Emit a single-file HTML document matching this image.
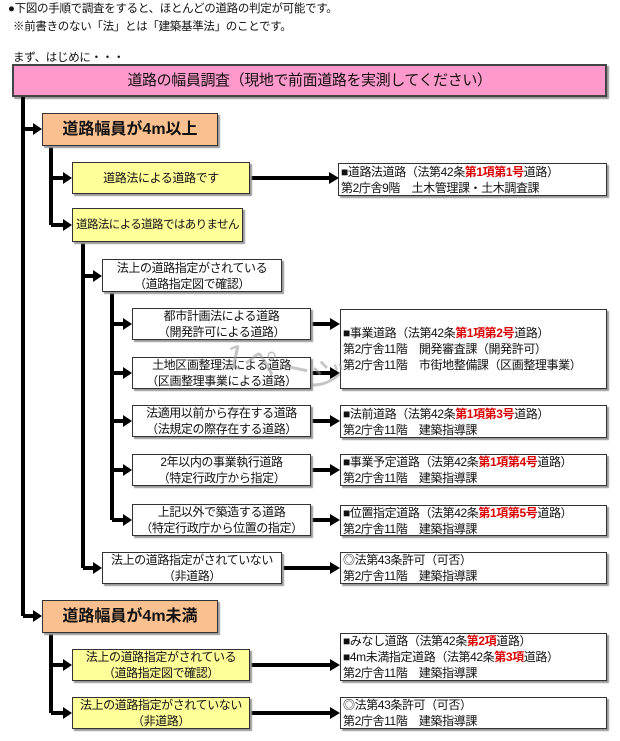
<!DOCTYPE html>
<html><head><meta charset="utf-8"><style>
body{margin:0;background:#fff;width:620px;height:741px;position:relative;overflow:hidden;font-family:"Liberation Sans","Noto Sans CJK JP",sans-serif;color:#111}
.t{position:absolute;font-size:11.5px;white-space:nowrap;letter-spacing:-0.3px}
.b{position:absolute;box-sizing:border-box;border:1px solid #333;display:flex;flex-direction:column;justify-content:center;align-items:center;font-size:12px;line-height:16px;text-align:center;box-shadow:2px 2px 1px #999;white-space:nowrap;letter-spacing:-0.4px}
.y{background:#ffff99}.o{background:#fac090;font-weight:bold;font-size:16px;letter-spacing:0}.w{background:#fff}
.r{position:absolute;box-sizing:border-box;border:1px solid #333;background:#fff;font-size:12px;line-height:16px;padding:1px 2px;box-shadow:2px 2px 1px #999;white-space:nowrap;display:flex;flex-direction:column;justify-content:center;letter-spacing:-0.4px}
.red{color:#d00;font-weight:bold}
</style></head><body>
<div class="t" style="left:8px;top:0px">●下図の手順で調査をすると、ほとんどの道路の判定が可能です。</div>
<div class="t" style="left:13px;top:18px">※前書きのない「法」とは「建築基準法」のことです。</div>
<div class="t" style="left:13px;top:49px">まず、はじめに・・・</div>
<div class="b" style="left:12px;top:64px;width:595px;height:33px;background:#ff99cc;font-size:15px;border:2px solid #444">道路の幅員調査（現地で前面道路を実測してください）</div>

<svg style="position:absolute;left:0;top:0" width="620" height="741">
<g stroke="#000" stroke-width="4" fill="none">
<line x1="23" y1="97" x2="23" y2="616"/>
<line x1="51" y1="146" x2="51" y2="225"/>
<line x1="51" y1="633" x2="51" y2="713"/>
<line x1="83" y1="242" x2="83" y2="568"/>
<line x1="112" y1="292" x2="112" y2="520"/>
<line x1="23" y1="129" x2="34" y2="129"/>
<line x1="23" y1="616" x2="34" y2="616"/>
<line x1="51" y1="178" x2="64" y2="178"/>
<line x1="51" y1="225" x2="64" y2="225"/>
<line x1="51" y1="665" x2="64" y2="665"/>
<line x1="51" y1="713" x2="64" y2="713"/>
<line x1="83" y1="276" x2="94" y2="276"/>
<line x1="83" y1="568" x2="94" y2="568"/>
<line x1="112" y1="324" x2="124" y2="324"/>
<line x1="112" y1="373" x2="124" y2="373"/>
<line x1="112" y1="421" x2="124" y2="421"/>
<line x1="112" y1="470" x2="124" y2="470"/>
<line x1="112" y1="520" x2="124" y2="520"/>
<line x1="250" y1="178" x2="330" y2="178"/>
<line x1="305" y1="324" x2="331" y2="324"/>
<line x1="305" y1="373" x2="331" y2="373"/>
<line x1="305" y1="421" x2="331" y2="421"/>
<line x1="305" y1="470" x2="331" y2="470"/>
<line x1="305" y1="520" x2="331" y2="520"/>
<line x1="281" y1="568" x2="331" y2="568"/>
<line x1="250" y1="665" x2="331" y2="665"/>
<line x1="250" y1="713" x2="331" y2="713"/>
</g>
<g fill="#000">
<path d="M33 123L42 129L33 135Z"/><path d="M33 610L42 616L33 622Z"/>
<path d="M63 172L72 178L63 184Z"/><path d="M63 219L72 225L63 231Z"/>
<path d="M63 659L72 665L63 671Z"/><path d="M63 707L72 713L63 719Z"/>
<path d="M93 270L102 276L93 282Z"/><path d="M93 562L102 568L93 574Z"/>
<path d="M123 318L132 324L123 330Z"/><path d="M123 367L132 373L123 379Z"/>
<path d="M123 415L132 421L123 427Z"/><path d="M123 464L132 470L123 476Z"/>
<path d="M123 514L132 520L123 526Z"/>
<path d="M329 172L339 178L329 184Z"/>
<path d="M330 318L340 324L330 330Z"/><path d="M330 367L340 373L330 379Z"/>
<path d="M330 415L340 421L330 427Z"/><path d="M330 464L340 470L330 476Z"/>
<path d="M330 514L340 520L330 526Z"/><path d="M330 562L340 568L330 574Z"/>
<path d="M330 659L340 665L330 671Z"/><path d="M330 707L340 713L330 719Z"/>
</g>
</svg>

<div class="b o" style="left:42px;top:113px;width:176px;height:33px">道路幅員が4m以上</div>
<div class="b y" style="left:72px;top:162px;width:178px;height:32px">道路法による道路です</div>
<div class="r" style="left:338px;top:163px;width:269px;height:33px"><div>■道路法道路（法第42条<span class="red">第1項第1号</span>道路）</div><div>第2庁舎9階　土木管理課・土木調査課</div></div>
<div class="b y" style="left:72px;top:208px;width:171px;height:34px;font-size:11.5px;letter-spacing:-0.6px">道路法による道路ではありません</div>
<div class="b w" style="left:102px;top:259px;width:180px;height:33px"><div>法上の道路指定がされている</div><div>（道路指定図で確認）</div></div>
<div class="b w" style="left:132px;top:308px;width:179px;height:32px"><div>都市計画法による道路</div><div>（開発許可による道路）</div></div>
<div class="b w" style="left:132px;top:357px;width:179px;height:32px"><div>土地区画整理法による道路</div><div>（区画整理事業による道路）</div></div>
<div class="r" style="left:340px;top:309px;width:267px;height:80px"><div>■事業道路（法第42条<span class="red">第1項第2号</span>道路）</div><div>第2庁舎11階　開発審査課（開発許可）</div><div>第2庁舎11階　市街地整備課（区画整理事業）</div></div>
<div class="t" style="left:225px;top:340px;font-size:34px;color:rgba(150,150,150,0.55);transform:rotate(12deg)">1ページ</div>
<div class="b w" style="left:132px;top:405px;width:179px;height:32px"><div>法適用以前から存在する道路</div><div>（法規定の際存在する道路）</div></div>
<div class="r" style="left:340px;top:405px;width:267px;height:33px"><div>■法前道路（法第42条<span class="red">第1項第3号</span>道路）</div><div>第2庁舎11階　建築指導課</div></div>
<div class="b w" style="left:132px;top:454px;width:179px;height:32px"><div>2年以内の事業執行道路</div><div>（特定行政庁から指定）</div></div>
<div class="r" style="left:340px;top:454px;width:267px;height:32px"><div>■事業予定道路（法第42条<span class="red">第1項第4号</span>道路）</div><div>第2庁舎11階　建築指導課</div></div>
<div class="b w" style="left:132px;top:504px;width:179px;height:32px"><div>上記以外で築造する道路</div><div>（特定行政庁から位置の指定）</div></div>
<div class="r" style="left:340px;top:505px;width:267px;height:31px"><div>■位置指定道路（法第42条<span class="red">第1項第5号</span>道路）</div><div>第2庁舎11階　建築指導課</div></div>
<div class="b w" style="left:102px;top:552px;width:180px;height:32px"><div>法上の道路指定がされていない</div><div>（非道路）</div></div>
<div class="r" style="left:340px;top:552px;width:267px;height:32px"><div>◎法第43条許可（可否）</div><div>第2庁舎11階　建築指導課</div></div>
<div class="b o" style="left:42px;top:600px;width:176px;height:33px">道路幅員が4m未満</div>
<div class="b y" style="left:72px;top:649px;width:178px;height:32px"><div>法上の道路指定がされている</div><div>（道路指定図で確認）</div></div>
<div class="r" style="left:340px;top:633px;width:267px;height:48px"><div>■みなし道路（法第42条<span class="red">第2項</span>道路）</div><div>■4m未満指定道路（法第42条<span class="red">第3項</span>道路）</div><div>第2庁舎11階　建築指導課</div></div>
<div class="b y" style="left:72px;top:697px;width:178px;height:32px"><div>法上の道路指定がされていない</div><div>（非道路）</div></div>
<div class="r" style="left:340px;top:697px;width:267px;height:32px"><div>◎法第43条許可（可否）</div><div>第2庁舎11階　建築指導課</div></div>
</body></html>
